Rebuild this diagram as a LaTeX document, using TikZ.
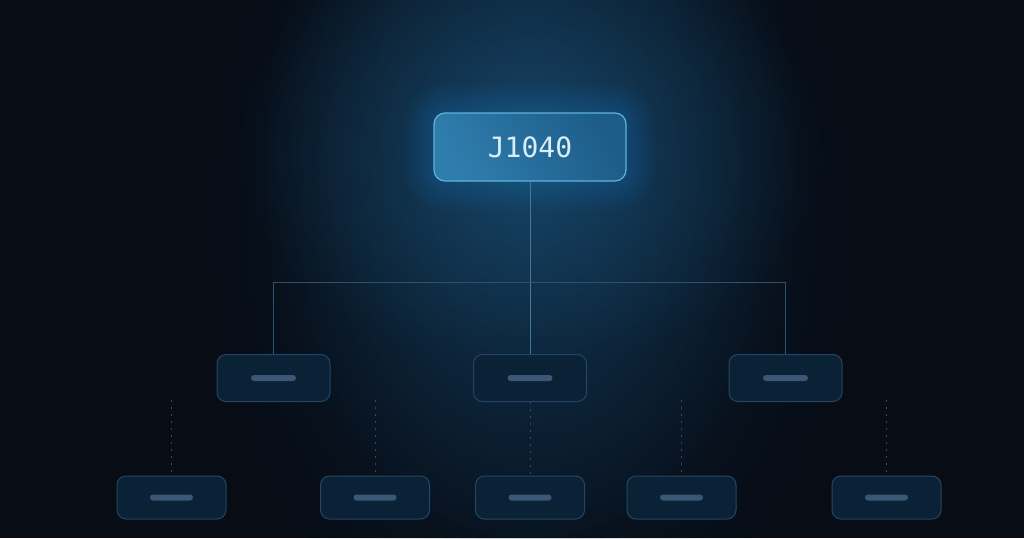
\documentclass[tikz,border=0pt]{standalone}
\usepackage{fontspec}
\setmonofont{DejaVu Sans Mono}
\usetikzlibrary{fadings,calc}
\definecolor{bgc}{HTML}{070C15}
\definecolor{glowc}{HTML}{11334F}
\definecolor{halo}{HTML}{2A86BE}
\definecolor{topA}{HTML}{2F7DAD}
\definecolor{topB}{HTML}{1D5C88}
\definecolor{topline}{HTML}{5DB3DE}
\definecolor{boxfill}{HTML}{0B2136}
\definecolor{boxline}{HTML}{224666}
\definecolor{barc}{HTML}{3A5876}
\definecolor{linec}{HTML}{31506B}
\definecolor{dotc}{HTML}{37495C}
\definecolor{txtc}{HTML}{D8EEF8}
\tikzfading[name=softglow, inner color=transparent!0, outer color=transparent!100]
\begin{document}
\begin{tikzpicture}[x=1pt,y=-1pt,
  topbox/.style={draw=topline, line width=1.2pt, rounded corners=11pt,
    left color=topA, right color=topB, shading angle=120,
    minimum width=192pt, minimum height=68pt, inner sep=0pt,
    text=txtc, font=\ttfamily\fontsize{28}{32}\selectfont},
  midbox/.style={draw=boxline, line width=1pt, fill=boxfill, rounded corners=9pt,
    minimum width=113pt, minimum height=47pt, inner sep=0pt},
  lowbox/.style={draw=boxline, line width=1pt, fill=boxfill, rounded corners=9pt,
    minimum width=109pt, minimum height=43pt, inner sep=0pt},
  barmark/.style={fill=barc, rounded corners=3pt, minimum width=45pt, minimum height=6pt, inner sep=0pt},
  lowbar/.style={barmark, minimum width=43pt},
  conn/.style={draw=linec, line width=1pt},
  dotconn/.style={draw=dotc, line width=1pt, dash pattern=on 2pt off 5pt}
]
\useasboundingbox (0,0) rectangle (1024,538);
\fill[bgc] (0,0) rectangle (1024,538);
% background glow column
\fill[glowc, opacity=0.5, path fading=softglow] (530,220) ellipse (330 and 460);
\fill[glowc, path fading=softglow] (530,160) ellipse (270 and 400);
\fill[halo, opacity=0.22, path fading=softglow] (530,150) ellipse (300 and 220);
% halo around top box
\foreach \e in {2,4,...,30} {
  \fill[halo, opacity=0.022, rounded corners=11pt+\e pt]
    (434-\e,113-\e) rectangle (626+\e,181+\e);
}

\coordinate (hub) at (530,282);
\node[topbox] (top) at (530,147) {J1040};
\node[midbox] (m1) at (273.5,378) {};
\node[midbox] (m2) at (530,378) {};
\node[midbox] (m3) at (785.5,378) {};
\node[lowbox] (b1) at (171.5,497.5) {};
\node[lowbox] (b2) at (375,497.5) {};
\node[lowbox] (b3) at (530,497.5) {};
\node[lowbox] (b4) at (681.5,497.5) {};
\node[lowbox] (b5) at (886.5,497.5) {};

\draw[conn, draw=linec!60!topline] (top.south) -- (m2.north);
\draw[conn] (m1.north) -- (m1.north |- hub) -- (m3.north |- hub) -- (m3.north);

\coordinate (d1) at (171.5,400);
\coordinate (d2) at (375,400);
\coordinate (d4) at (681.5,400);
\coordinate (d5) at (886.5,400);
\draw[dotconn] (d1) -- (b1.north);
\draw[dotconn] (d2) -- (b2.north);
\draw[dotconn] (m2.south) -- (b3.north);
\draw[dotconn] (d4) -- (b4.north);
\draw[dotconn] (d5) -- (b5.north);

\foreach \n in {m1,m2,m3} { \node[barmark] (\n bar) at (\n) {}; }
\foreach \n in {b1,b2,b3,b4,b5} { \node[lowbar] (\n bar) at (\n) {}; }
\end{tikzpicture}
\end{document}
